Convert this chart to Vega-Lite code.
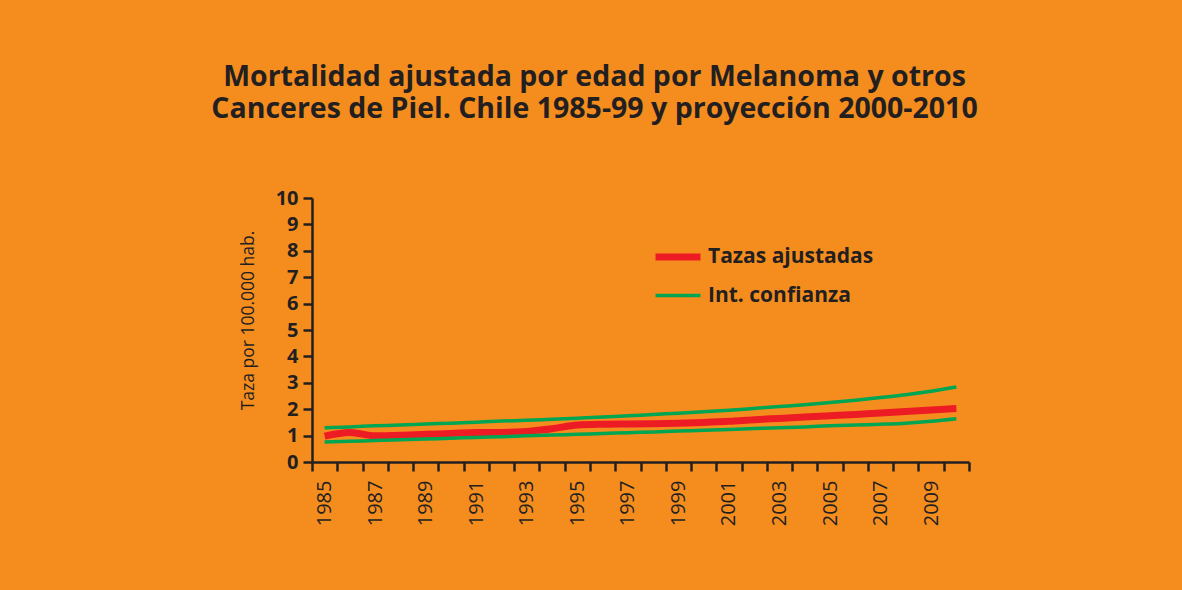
{
  "$schema": "https://vega.github.io/schema/vega-lite/v6.json",
  "width": 657,
  "height": 264,
  "autosize": {"type": "none"},
  "padding": {"left": 312, "top": 198, "right": 213, "bottom": 128},
  "background": "#F58D1E",
  "config": {"view": {"stroke": null}, "font": "Open Sans"},
  "title": {
    "text": "Mortalidad ajustada por edad por Melanoma y otros",
    "subtitle": "Canceres de Piel. Chile 1985-99 y proyección 2000-2010",
    "font": "Open Sans",
    "fontWeight": "bold",
    "fontSize": 28.5,
    "color": "#231F20",
    "subtitleFont": "Open Sans",
    "subtitleFontWeight": "bold",
    "subtitleFontSize": 28.5,
    "subtitleColor": "#231F20",
    "subtitlePadding": 3,
    "anchor": "middle",
    "frame": "group",
    "dx": -46,
    "offset": 65
  },
  "data": {
    "values": [
      {"year": 1985, "value": 0.98, "serie": "Tazas ajustadas", "linea": "tasa"},
      {"year": 1986, "value": 1.12, "serie": "Tazas ajustadas", "linea": "tasa"},
      {"year": 1987, "value": 0.99, "serie": "Tazas ajustadas", "linea": "tasa"},
      {"year": 1988, "value": 1.01, "serie": "Tazas ajustadas", "linea": "tasa"},
      {"year": 1989, "value": 1.05, "serie": "Tazas ajustadas", "linea": "tasa"},
      {"year": 1990, "value": 1.08, "serie": "Tazas ajustadas", "linea": "tasa"},
      {"year": 1991, "value": 1.12, "serie": "Tazas ajustadas", "linea": "tasa"},
      {"year": 1992, "value": 1.12, "serie": "Tazas ajustadas", "linea": "tasa"},
      {"year": 1993, "value": 1.16, "serie": "Tazas ajustadas", "linea": "tasa"},
      {"year": 1994, "value": 1.26, "serie": "Tazas ajustadas", "linea": "tasa"},
      {"year": 1995, "value": 1.40, "serie": "Tazas ajustadas", "linea": "tasa"},
      {"year": 1996, "value": 1.43, "serie": "Tazas ajustadas", "linea": "tasa"},
      {"year": 1997, "value": 1.44, "serie": "Tazas ajustadas", "linea": "tasa"},
      {"year": 1998, "value": 1.45, "serie": "Tazas ajustadas", "linea": "tasa"},
      {"year": 1999, "value": 1.47, "serie": "Tazas ajustadas", "linea": "tasa"},
      {"year": 2000, "value": 1.50, "serie": "Tazas ajustadas", "linea": "tasa"},
      {"year": 2001, "value": 1.54, "serie": "Tazas ajustadas", "linea": "tasa"},
      {"year": 2002, "value": 1.60, "serie": "Tazas ajustadas", "linea": "tasa"},
      {"year": 2003, "value": 1.65, "serie": "Tazas ajustadas", "linea": "tasa"},
      {"year": 2004, "value": 1.70, "serie": "Tazas ajustadas", "linea": "tasa"},
      {"year": 2005, "value": 1.75, "serie": "Tazas ajustadas", "linea": "tasa"},
      {"year": 2006, "value": 1.80, "serie": "Tazas ajustadas", "linea": "tasa"},
      {"year": 2007, "value": 1.86, "serie": "Tazas ajustadas", "linea": "tasa"},
      {"year": 2008, "value": 1.91, "serie": "Tazas ajustadas", "linea": "tasa"},
      {"year": 2009, "value": 1.97, "serie": "Tazas ajustadas", "linea": "tasa"},
      {"year": 2010, "value": 2.03, "serie": "Tazas ajustadas", "linea": "tasa"},
      {"year": 1985, "value": 1.30, "serie": "Int. confianza", "linea": "sup"},
      {"year": 1986, "value": 1.33, "serie": "Int. confianza", "linea": "sup"},
      {"year": 1987, "value": 1.37, "serie": "Int. confianza", "linea": "sup"},
      {"year": 1988, "value": 1.40, "serie": "Int. confianza", "linea": "sup"},
      {"year": 1989, "value": 1.44, "serie": "Int. confianza", "linea": "sup"},
      {"year": 1990, "value": 1.47, "serie": "Int. confianza", "linea": "sup"},
      {"year": 1991, "value": 1.51, "serie": "Int. confianza", "linea": "sup"},
      {"year": 1992, "value": 1.55, "serie": "Int. confianza", "linea": "sup"},
      {"year": 1993, "value": 1.58, "serie": "Int. confianza", "linea": "sup"},
      {"year": 1994, "value": 1.62, "serie": "Int. confianza", "linea": "sup"},
      {"year": 1995, "value": 1.66, "serie": "Int. confianza", "linea": "sup"},
      {"year": 1996, "value": 1.70, "serie": "Int. confianza", "linea": "sup"},
      {"year": 1997, "value": 1.75, "serie": "Int. confianza", "linea": "sup"},
      {"year": 1998, "value": 1.80, "serie": "Int. confianza", "linea": "sup"},
      {"year": 1999, "value": 1.85, "serie": "Int. confianza", "linea": "sup"},
      {"year": 2000, "value": 1.90, "serie": "Int. confianza", "linea": "sup"},
      {"year": 2001, "value": 1.96, "serie": "Int. confianza", "linea": "sup"},
      {"year": 2002, "value": 2.03, "serie": "Int. confianza", "linea": "sup"},
      {"year": 2003, "value": 2.10, "serie": "Int. confianza", "linea": "sup"},
      {"year": 2004, "value": 2.17, "serie": "Int. confianza", "linea": "sup"},
      {"year": 2005, "value": 2.25, "serie": "Int. confianza", "linea": "sup"},
      {"year": 2006, "value": 2.34, "serie": "Int. confianza", "linea": "sup"},
      {"year": 2007, "value": 2.44, "serie": "Int. confianza", "linea": "sup"},
      {"year": 2008, "value": 2.55, "serie": "Int. confianza", "linea": "sup"},
      {"year": 2009, "value": 2.68, "serie": "Int. confianza", "linea": "sup"},
      {"year": 2010, "value": 2.84, "serie": "Int. confianza", "linea": "sup"},
      {"year": 1985, "value": 0.76, "serie": "Int. confianza", "linea": "inf"},
      {"year": 1986, "value": 0.79, "serie": "Int. confianza", "linea": "inf"},
      {"year": 1987, "value": 0.81, "serie": "Int. confianza", "linea": "inf"},
      {"year": 1988, "value": 0.84, "serie": "Int. confianza", "linea": "inf"},
      {"year": 1989, "value": 0.87, "serie": "Int. confianza", "linea": "inf"},
      {"year": 1990, "value": 0.90, "serie": "Int. confianza", "linea": "inf"},
      {"year": 1991, "value": 0.93, "serie": "Int. confianza", "linea": "inf"},
      {"year": 1992, "value": 0.96, "serie": "Int. confianza", "linea": "inf"},
      {"year": 1993, "value": 0.99, "serie": "Int. confianza", "linea": "inf"},
      {"year": 1994, "value": 1.02, "serie": "Int. confianza", "linea": "inf"},
      {"year": 1995, "value": 1.05, "serie": "Int. confianza", "linea": "inf"},
      {"year": 1996, "value": 1.08, "serie": "Int. confianza", "linea": "inf"},
      {"year": 1997, "value": 1.11, "serie": "Int. confianza", "linea": "inf"},
      {"year": 1998, "value": 1.14, "serie": "Int. confianza", "linea": "inf"},
      {"year": 1999, "value": 1.17, "serie": "Int. confianza", "linea": "inf"},
      {"year": 2000, "value": 1.20, "serie": "Int. confianza", "linea": "inf"},
      {"year": 2001, "value": 1.23, "serie": "Int. confianza", "linea": "inf"},
      {"year": 2002, "value": 1.27, "serie": "Int. confianza", "linea": "inf"},
      {"year": 2003, "value": 1.30, "serie": "Int. confianza", "linea": "inf"},
      {"year": 2004, "value": 1.33, "serie": "Int. confianza", "linea": "inf"},
      {"year": 2005, "value": 1.37, "serie": "Int. confianza", "linea": "inf"},
      {"year": 2006, "value": 1.40, "serie": "Int. confianza", "linea": "inf"},
      {"year": 2007, "value": 1.43, "serie": "Int. confianza", "linea": "inf"},
      {"year": 2008, "value": 1.47, "serie": "Int. confianza", "linea": "inf"},
      {"year": 2009, "value": 1.54, "serie": "Int. confianza", "linea": "inf"},
      {"year": 2010, "value": 1.64, "serie": "Int. confianza", "linea": "inf"}
    ]
  },
  "mark": {"type": "line", "interpolate": "monotone", "strokeCap": "butt"},
  "encoding": {
    "x": {
      "field": "year",
      "type": "ordinal",
      "bandPosition": 0.5,
      "scale": {"type": "band", "paddingInner": 0, "paddingOuter": 0},
      "axis": {
        "title": null,
        "tickBand": "extent",
        "labelExpr": "datum.value % 2 == 1 ? datum.label : ''",
        "labelAngle": 270,
        "labelAlign": "right",
        "labelBaseline": "middle",
        "labelFont": "Open Sans",
        "labelFontSize": 20,
        "labelColor": "#231F20",
        "labelPadding": 9,
        "domainColor": "#231F20",
        "domainWidth": 2.5,
        "tickColor": "#231F20",
        "tickWidth": 2.5,
        "tickSize": 9,
        "grid": false
      }
    },
    "y": {
      "field": "value",
      "type": "quantitative",
      "scale": {"domain": [0, 10], "nice": false},
      "axis": {
        "title": "Taza por 100.000 hab.",
        "titleFont": "Open Sans",
        "titleFontWeight": "normal",
        "titleFontSize": 17.5,
        "titleColor": "#231F20",
        "titleY": 122,
        "titleX": -64,
        "titleAngle": 270,
        "titleAlign": "center",
        "titleBaseline": "middle",
        "values": [0, 1, 2, 3, 4, 5, 6, 7, 8, 9, 10],
        "labelFont": "Open Sans",
        "labelFontWeight": "bold",
        "labelFontSize": 20,
        "labelColor": "#231F20",
        "labelPadding": 5,
        "domainColor": "#231F20",
        "domainWidth": 2.5,
        "tickColor": "#231F20",
        "tickWidth": 2.5,
        "tickSize": 9,
        "grid": false
      }
    },
    "detail": {"field": "linea"},
    "color": {
      "field": "serie",
      "type": "nominal",
      "scale": {"domain": ["Tazas ajustadas", "Int. confianza"], "range": ["#ED1C24", "#00A651"]},
      "legend": {
        "title": null,
        "orient": "none",
        "legendX": 340,
        "legendY": 33,
        "symbolType": "stroke",
        "symbolSize": 2025,
        "rowPadding": -7,
        "labelFont": "Open Sans",
        "labelFontWeight": "bold",
        "labelFontSize": 21,
        "labelColor": "#231F20",
        "labelOffset": 4,
        "labelLimit": 400
      }
    },
    "strokeWidth": {
      "field": "serie",
      "type": "nominal",
      "scale": {"domain": ["Tazas ajustadas", "Int. confianza"], "range": [7, 3.5]},
      "legend": {
        "title": null,
        "orient": "none",
        "legendX": 340,
        "legendY": 33,
        "symbolType": "stroke",
        "symbolSize": 2025,
        "rowPadding": -7,
        "labelFont": "Open Sans",
        "labelFontWeight": "bold",
        "labelFontSize": 21,
        "labelColor": "#231F20",
        "labelOffset": 4,
        "labelLimit": 400
      }
    }
  }
}
